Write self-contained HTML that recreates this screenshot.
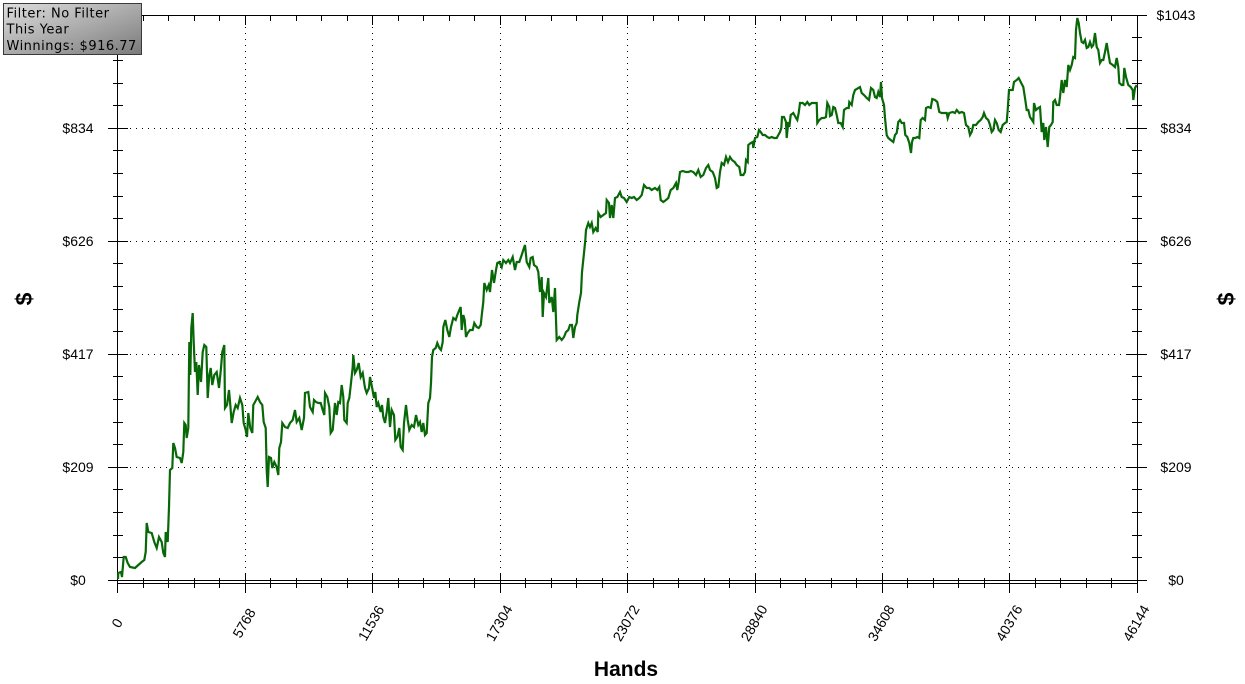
<!DOCTYPE html>
<html><head><meta charset="utf-8"><style>
html,body{margin:0;padding:0;background:#fff;}
svg{display:block;}
text{font-family:"Liberation Sans",Arial,sans-serif;}
</style></head><body>
<svg width="1245" height="684" viewBox="0 0 1245 684" xmlns="http://www.w3.org/2000/svg">
<defs>
<linearGradient id="bg" x1="0" y1="0" x2="1" y2="1">
<stop offset="0" stop-color="#dedede"/><stop offset="1" stop-color="#7a7a7a"/>
</linearGradient>
</defs>
<rect width="1245" height="684" fill="#fff"/>
<!-- dotted gridlines -->
<g stroke="#000" stroke-width="1" stroke-dasharray="1 5" fill="none">
<path d="M118 128.5H1137M118 241.5H1137M118 354.5H1137M118 467.5H1137"/>
<path d="M245.5 15V580M372.5 15V580M500.5 15V580M627.5 15V580M755.5 15V580M882.5 15V580M1009.5 15V580"/>
</g>
<!-- axes -->
<g stroke="#000" stroke-width="1" fill="none">
<path d="M117.5 15V593M1137.5 15V593M108 15.5H1147M108 580.5H1147M117.5 583.5H1137.5"/>
<path d="M108 128.5H128M108 241.5H128M108 354.5H128M108 467.5H128M1127 128.5H1147M1127 241.5H1147M1127 354.5H1147M1127 467.5H1147"/>
<path d="M113 37.5H123M113 60.5H123M113 83.5H123M113 105.5H123M113 150.5H123M113 173.5H123M113 196.5H123M113 218.5H123M113 263.5H123M113 286.5H123M113 309.5H123M113 331.5H123M113 376.5H123M113 399.5H123M113 422.5H123M113 444.5H123M113 489.5H123M113 512.5H123M113 535.5H123M113 557.5H123"/>
<path d="M1132 37.5H1142M1132 60.5H1142M1132 83.5H1142M1132 105.5H1142M1132 150.5H1142M1132 173.5H1142M1132 196.5H1142M1132 218.5H1142M1132 263.5H1142M1132 286.5H1142M1132 309.5H1142M1132 331.5H1142M1132 376.5H1142M1132 399.5H1142M1132 422.5H1142M1132 444.5H1142M1132 489.5H1142M1132 512.5H1142M1132 535.5H1142M1132 557.5H1142"/>
<path d="M143.5 15V21M168.5 15V21M194.5 15V21M219.5 15V21M270.5 15V21M296.5 15V21M321.5 15V21M347.5 15V21M398.5 15V21M423.5 15V21M449.5 15V21M474.5 15V21M525.5 15V21M551.5 15V21M576.5 15V21M602.5 15V21M653.5 15V21M678.5 15V21M704.5 15V21M729.5 15V21M780.5 15V21M805.5 15V21M831.5 15V21M856.5 15V21M907.5 15V21M933.5 15V21M958.5 15V21M984.5 15V21M1035.5 15V21M1060.5 15V21M1086.5 15V21M1111.5 15V21"/>
<path d="M245.5 15V25M372.5 15V25M500.5 15V25M627.5 15V25M755.5 15V25M882.5 15V25M1009.5 15V25"/>
<path d="M143.5 578V588M168.5 578V588M194.5 578V588M219.5 578V588M270.5 578V588M296.5 578V588M321.5 578V588M347.5 578V588M398.5 578V588M423.5 578V588M449.5 578V588M474.5 578V588M525.5 578V588M551.5 578V588M576.5 578V588M602.5 578V588M653.5 578V588M678.5 578V588M704.5 578V588M729.5 578V588M780.5 578V588M805.5 578V588M831.5 578V588M856.5 578V588M907.5 578V588M933.5 578V588M958.5 578V588M984.5 578V588M1035.5 578V588M1060.5 578V588M1086.5 578V588M1111.5 578V588"/>
<path d="M245.5 573V593M372.5 573V593M500.5 573V593M627.5 573V593M755.5 573V593M882.5 573V593M1009.5 573V593"/>
</g>
<!-- data line -->
<polyline fill="none" stroke="#086808" stroke-width="2.2" stroke-linejoin="miter" points="
118,579 118.3,573 121,572 122,577 123.7,557 125.7,557 127.7,563 130,567 135,568 138.3,565 141.7,562 144.3,560 145.7,552 146.7,523 148.3,532 151.7,533 154.3,542 156.7,548 159,537 161.7,542 163.3,553 165,557 165.7,532 167.7,542 169,507 170,470 172.3,468 173.3,443 175,448 176.7,457 180,458 181.7,463 183.3,452 184.3,423 185.7,425 186.7,438 188.3,428 189.3,342 190.3,375 191.3,328 192.7,313 193.7,342 195,372 196.3,362 197.7,395 199,365 201,382 202.7,352 204.3,345 206.3,347 207.7,398 209.3,375 210.7,368 212.3,385 214.3,375 216.7,372 219,388 221,368 222.3,352 224.3,345 225,408 227,405 229,390 230.3,405 231.7,423 233.7,412 235.7,405 237.7,408 240,398 242.3,405 243.7,423 245.7,430 247,437 248.3,413 250.3,428 252.3,433 253.3,405 255,402 257.7,397 260,402 262.3,405 263.7,422 265.7,428 266.7,470 267.7,487 269,457 271,458 272.3,468 274.3,462 276.7,467 278.3,475 279.3,448 281,442 282.3,423 285,427 287.7,428 290,423 292.7,420 295,410
296.7,422 299.3,418 301.7,430 304,418 305,393 308.3,392 310,407 312.7,412 314,400 316,402 318.3,403 320.7,403 322.7,410 324.3,415 325,393 327.3,397 329.3,407 330.7,433 332.7,430 335,403 336.7,415 338.3,402 340,403 341.7,385 343.3,397 344.3,420 346.7,423 347.7,403 349.3,398 351,383 352.7,367 353.3,355 355,373 356.7,370 358.7,363 360.7,377 362.7,373 365,388 366.7,393 369,388 370,377 372,387 374,398 375.3,392 376.7,407 378.3,403 380.7,412 382,405 383.3,417 385,423 386.7,412 388.3,398 390,427 391.7,410 394,415 395.3,440 397.3,437 399.3,428 400.7,447 402.7,450 404,423 406,405 407.7,420 409.3,430 411.7,425 414,427 416,415 418.3,425 420,422 421.7,432 423.3,423 425,435 426.7,433 428.3,403 430,398 431,383 432,357 433.3,350 435.7,348 437.3,343 439.3,348 441,350 442.7,342 443.3,327 445.3,320 447.3,330 449.3,337 451,327 453.3,318 455.7,320 457.3,315 459.3,310 460.7,307 461.7,330 463.3,315 464.7,320 466,337 467.7,333 470,330 472.7,330 474.3,323 476.7,327 478.7,328 480.7,325 482,313 483.3,302 484.3,283 486.7,290 488.7,285 490,292 492,270 494,283 496,270 497.3,263 499.3,262 501.7,267 503.3,260 506,263 508.3,260 510,263 512.7,257 515,270 516.7,262 519.3,262 521.7,255 523.3,250 525,245 526.7,262 529.3,267 530.7,258 532.7,257 534,265 536.7,267 538.3,272 540,292 541.7,277 542.7,317 544,293 546,297 548.3,278 549.3,303 551.7,297 553.3,312 555,288 556,320 556.7,340 559.3,337 561.7,340 564,337 566,332 568.3,330 570,325 572,325 573.3,338 575,327 576.7,323 577.3,315 579.3,302 581,293 582,272 584,253 585.3,240 586,230
588.3,223 590,227 591.7,223 593.3,232 595.7,228 597.7,232 598.3,213 600.7,217 603.3,215 606,213 606.7,200 609,203 610,218 611.7,205 613.3,218 615,198 617.3,197 620,192 621.7,197 624,198 626.7,202 629.3,197 631.7,198 634,197 636.7,200 639.3,198 641.7,195 644,185 646.7,188 649.3,188 651.7,190 655,188 657.3,190 659.3,187 660.7,200 663.3,202 666,200 668.3,198 670.7,190 673.3,188 676,183 677.3,190 678.7,182 680,172 682.7,171 686,172 688.3,172 690.7,171 693.3,172 696,175 698.3,170 700.7,177 703.3,175 706,168 708.3,165 710,170 712.7,172 715,178 716.7,188 718.3,187 720,172 721.7,163 724,165 726,157 728,162 730,157 732,160 734.7,162 736.7,165 739.3,167 740.7,175 743.3,175 745,172 746,160 747.7,162 748.3,145 750.7,143 752.7,142 753.3,148 755,138 757.3,137 759,130 760.7,132 762.7,135 765,135 767.3,137 769.3,138 771.7,137 774,138 776.7,138 778.3,135 780,132 781.3,128 782,117 784,117 786,122 786.7,138 788.3,122 789.3,127 790.7,115 793.3,113 796,118 797.3,120 798.7,113 800,103 802.7,103 805,105 807.3,102 809.3,105 811.7,103 815,103 816.7,103 817.3,123 819.3,120 821.7,118 824,118 826,117 827.3,103 829.3,107 830,116 831.7,115 833.3,107 835,108 836.7,115 838.3,123 840.7,123 842.7,127 844,110 846.7,108 848.7,108 849.3,102 851.7,105 853.3,95 855,90 860,87
861.7,93 864,95 866.7,98 869,100 871,88 873.3,90 875,97 876.7,98 878.3,92 880,97 881,82 882,98 884,105 885,118 886.7,135 888.3,138 890.7,140 893.3,142 895,135 896.7,133 898.3,122 900,120 901.7,123 904,123 905.3,135 907.3,137 909.3,143 911,153 912,142 913.3,138 915.3,138 917.3,137 919.3,138 920.7,120 922.7,118 925,120 926,108 928.3,107 930.7,108 932.3,99 935,100 937.3,102 939.3,112 941.7,113 944,113 946.7,113 947.7,118 949.3,113 952.7,112 955,113 956.7,110 959.3,113 961.7,112 964,113 966,125 968.3,127 970,135 971.7,132 973.3,125 976,125 978.3,122 980.7,120 982.7,117 984,113 986,118 988.3,120 990,125 991.7,132 993.3,130 995,120 996.7,123 998.7,130 1000.7,132 1002.7,125 1005,123 1006.7,122 1007.7,110 1009,90 1010.7,90 1012.7,90 1014,82 1016.7,80 1018.7,78 1020.7,82 1023.3,87 1025.3,100 1026.7,110 1028.3,110 1030,117 1032,120 1033.3,122 1034,103 1036,110 1038.3,108 1040,107 1041.7,132 1043.3,123 1044.3,140 1046,127 1047.7,147 1049.3,127 1051,125 1052.7,122 1053.3,102 1055,100 1056.7,105 1059,105 1060,97 1061.7,80 1063.3,93 1065,80 1066.7,87 1068.3,65 1070,70 1071.7,65 1073.3,57 1075,58 1076,30 1077.3,18 1078.7,23 1080,33 1081.7,42 1083.3,43 1085,40 1086.7,48 1088.3,47 1090,42 1091.7,47 1093.3,45 1095,33 1096.7,47 1098.3,50 1100,63 1101.7,60 1103.3,60 1105,52 1106.7,43 1108.3,53 1110,63 1112.7,65 1115,67 1116.7,58 1118.3,67 1119.3,83 1121.7,85 1123.3,85 1124.3,68 1126,77 1128.3,85 1130.7,87 1132.7,90 1133.3,100 1135,88 1136.7,85"/>
<!-- y labels -->
<g font-size="14" fill="#000" text-anchor="middle">
<text x="78" y="585">$0</text>
<text x="78" y="472">$209</text>
<text x="78" y="359">$417</text>
<text x="78" y="246">$626</text>
<text x="78" y="133">$834</text>
<text x="1176" y="585">$0</text>
<text x="1176" y="472">$209</text>
<text x="1176" y="359">$417</text>
<text x="1176" y="246">$626</text>
<text x="1176" y="133">$834</text>
<text x="1176" y="20">$1043</text>
</g>
<!-- x labels -->
<g font-size="14" fill="#000" text-anchor="middle">
<text transform="translate(117,623) rotate(-60)" dy="5">0</text>
<text transform="translate(244,623) rotate(-60)" dy="5">5768</text>
<text transform="translate(371,623) rotate(-60)" dy="5">11536</text>
<text transform="translate(499,623) rotate(-60)" dy="5">17304</text>
<text transform="translate(626,623) rotate(-60)" dy="5">23072</text>
<text transform="translate(754,623) rotate(-60)" dy="5">28840</text>
<text transform="translate(881,623) rotate(-60)" dy="5">34608</text>
<text transform="translate(1009,623) rotate(-60)" dy="5">40376</text>
<text transform="translate(1136,623) rotate(-60)" dy="5">46144</text>
</g>
<text x="626" y="676" font-size="21" font-weight="bold" text-anchor="middle" fill="#000">Hands</text>
<text transform="translate(25,299) rotate(-90)" dy="7" font-size="23" font-weight="bold" text-anchor="middle" fill="#000">$</text>
<text transform="translate(1227,299) rotate(-90)" dy="7" font-size="23" font-weight="bold" text-anchor="middle" fill="#000">$</text>
<!-- info box -->
<rect x="3.5" y="3.5" width="138" height="51" fill="url(#bg)" stroke="#3a3a3a" stroke-width="1"/>
<g font-size="13" fill="#000" letter-spacing="0.5">
<text x="6.5" y="17.5" style="font-family:'DejaVu Sans',sans-serif">Filter: No Filter</text>
<text x="6.5" y="33.5" style="font-family:'DejaVu Sans',sans-serif">This Year</text>
<text x="6.5" y="50" style="font-family:'DejaVu Sans',sans-serif">Winnings: $916.77</text>
</g>
</svg>
</body></html>
